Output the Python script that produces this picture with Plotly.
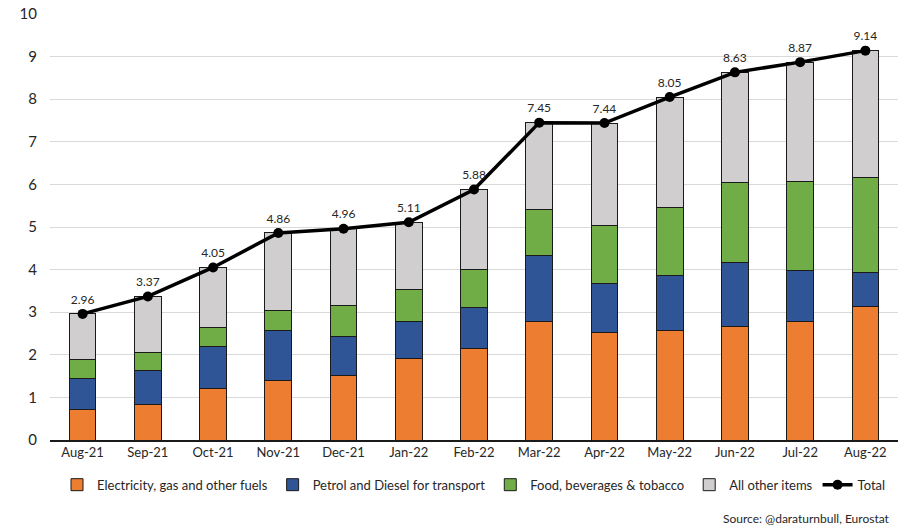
import plotly.graph_objects as go

months = ["Aug-21", "Sep-21", "Oct-21", "Nov-21", "Dec-21", "Jan-22", "Feb-22",
          "Mar-22", "Apr-22", "May-22", "Jun-22", "Jul-22", "Aug-22"]

energy = [0.72, 0.84, 1.20, 1.40, 1.51, 1.92, 2.14, 2.78, 2.52, 2.57, 2.66, 2.79, 3.13]
fuel = [0.73, 0.78, 1.00, 1.17, 0.93, 0.86, 0.97, 1.55, 1.15, 1.29, 1.50, 1.20, 0.81]
food = [0.43, 0.44, 0.44, 0.48, 0.71, 0.76, 0.90, 1.07, 1.36, 1.59, 1.88, 2.08, 2.23]
total = [2.96, 3.37, 4.05, 4.86, 4.96, 5.11, 5.88, 7.45, 7.44, 8.05, 8.63, 8.87, 9.14]
other = [round(t - e - f - d, 2) for t, e, f, d in zip(total, energy, fuel, food)]

series = [
    ("Electricity, gas and other fuels", energy, "#ED7D31"),
    ("Petrol and Diesel for transport", fuel, "#2F5597"),
    ("Food, beverages & tobacco", food, "#70AD47"),
    ("All other items", other, "#D0CECE"),
]

FONT = "Lato"
TXT = "#262626"

fig = go.Figure()
for name, vals, color in series:
    fig.add_trace(go.Bar(
        x=months, y=vals, name=name,
        marker=dict(color=color, line=dict(color="#1a1a1a", width=1)),
    ))

fig.add_trace(go.Scatter(
    x=months, y=total, name="Total", mode="lines+markers+text",
    line=dict(color="black", width=3.5),
    marker=dict(color="black", size=10),
    text=[f"{v:.2f}" for v in total], textposition="top center",
    textfont=dict(family=FONT, size=12, color=TXT),
))

fig.add_annotation(
    text="(percentage points contribution)", xref="paper", yref="paper",
    x=0.49, y=1.05, xanchor="center", yanchor="middle", showarrow=False,
    font=dict(family=FONT, size=13, color=TXT),
)
fig.add_annotation(
    text="Source: @daraturnbull, Eurostat", xref="paper", yref="paper",
    x=0.993, y=-0.185, xanchor="right", yanchor="middle", showarrow=False,
    font=dict(family=FONT, size=12, color=TXT),
)

fig.update_layout(
    width=899, height=527,
    margin=dict(l=50, r=1, t=14, b=87, autoexpand=False),
    barmode="stack", bargap=0.59,
    plot_bgcolor="white", paper_bgcolor="white",
    font=dict(family=FONT, size=13, color=TXT),
    showlegend=True,
    legend=dict(orientation="h", x=0.5, xanchor="center", y=-0.105, yanchor="middle",
                font=dict(family=FONT, size=13, color=TXT), traceorder="normal",
                itemwidth=30),
)
fig.update_xaxes(
    automargin=False, range=[-0.5, len(months) - 0.5],
    showline=True, linecolor="#1a1a1a", linewidth=1.5, ticks="",
    tickfont=dict(family=FONT, size=13, color=TXT),
)
fig.update_yaxes(
    automargin=False,
    range=[0, 10], dtick=1, showgrid=True, gridcolor="#D9D9D9", gridwidth=1.2,
    zeroline=False, tickfont=dict(family=FONT, size=15, color=TXT), ticklabelstandoff=12,
)

fig.write_html("out.html")
